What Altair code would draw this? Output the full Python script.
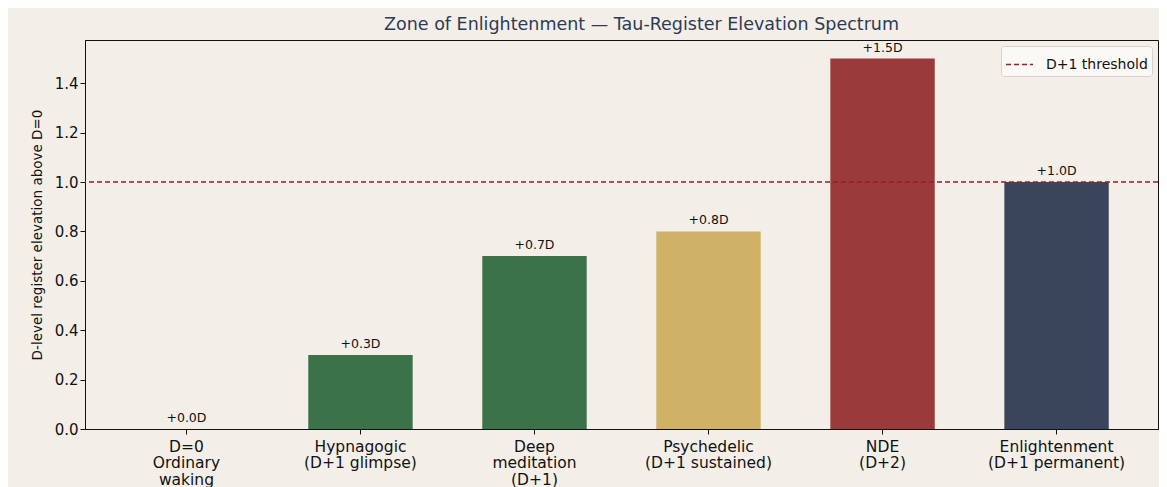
import altair as alt
import pandas as pd

categories = ["D=0\nOrdinary\nwaking", "Hypnagogic\n(D+1 glimpse)", "Deep\nmeditation\n(D+1)",
              "Psychedelic\n(D+1 sustained)", "NDE\n(D+2)", "Enlightenment\n(D+1 permanent)"]
values = [0.0, 0.3, 0.7, 0.8, 1.5, 1.0]
labels = ["+0.0D", "+0.3D", "+0.7D", "+0.8D", "+1.5D", "+1.0D"]
colors = ["#8a8a8a", "#3b7249", "#3b7249", "#cfb266", "#9b3a3a", "#3a455c"]
threshold = [1.0]
threshold_name = ["D+1 threshold"]

bg = "#f3efe8"
df = pd.DataFrame({"cat": categories, "val": values, "lab": labels})
tdf = pd.DataFrame({"y": threshold, "name": threshold_name})

xenc = alt.X("cat:N", sort=categories,
             scale=alt.Scale(paddingInner=0.4, paddingOuter=0.283),
             axis=alt.Axis(title=None, labelAngle=0, labelExpr="split(datum.label, '\\n')",
                           labelFontSize=15.5, labelLineHeight=16.5, labelPadding=5,
                           tickSize=5, labelColor="#111111"))
yscale = alt.Scale(domain=[0, 1.575], nice=False, zero=True)

bars = alt.Chart(df).mark_bar().encode(
    x=xenc,
    y=alt.Y("val:Q", scale=yscale,
            axis=alt.Axis(title="D-level register elevation above D=0",
                          values=[0, 0.2, 0.4, 0.6, 0.8, 1.0, 1.2, 1.4], format=".1f",
                          labelFontSize=15, titleFontSize=13.5, titleFontWeight="normal",
                          titlePadding=10, tickSize=5, grid=False, labelColor="#111111",
                          titleColor="#111111")),
    fill=alt.Fill("cat:N", scale=alt.Scale(domain=categories, range=colors), legend=None),
)

text = alt.Chart(df).mark_text(baseline="bottom", dy=-4, fontSize=12.5, color="#111111",
                               font="DejaVu Sans").encode(
    x=alt.X("cat:N", sort=categories), y=alt.Y("val:Q", scale=yscale), text="lab:N")

rule = alt.Chart(tdf).mark_rule(strokeWidth=1.3, strokeDash=[5, 3]).encode(
    y=alt.Y("y:Q", scale=yscale),
    stroke=alt.Stroke("name:N", scale=alt.Scale(domain=threshold_name, range=["#a11d21"]),
                      legend=alt.Legend(title=None, orient="top-right", offset=6,
                                        symbolType="stroke", symbolSize=729,
                                        symbolStrokeWidth=1.3, symbolDash=[5, 3],
                                        labelFontSize=14, labelColor="#111111", labelOffset=12,
                                        fillColor="#fbf9f6", strokeColor="#d5d2cc",
                                        cornerRadius=3, padding=4)),
)

chart = alt.layer(bars, rule, text).resolve_scale(fill="independent", stroke="independent").properties(
    width=1073, height=389,
    title=alt.TitleParams("Zone of Enlightenment — Tau-Register Elevation Spectrum",
                          fontSize=17.5, fontWeight="normal", color="#2d3a55", offset=7,
                          anchor="middle", dx=20, font="DejaVu Sans"),
    autosize=alt.AutoSizeParams(type="none"),
    padding={"left": 77, "top": 32, "right": 1, "bottom": 70},
    background=bg,
).configure(font="DejaVu Sans").configure_view(
    stroke="#111111", strokeWidth=1, fill=bg
).configure_axis(domainColor="#111111", tickColor="#111111", domainWidth=1)

chart.save("out.html", embed_options={"renderer": "svg", "actions": False})
